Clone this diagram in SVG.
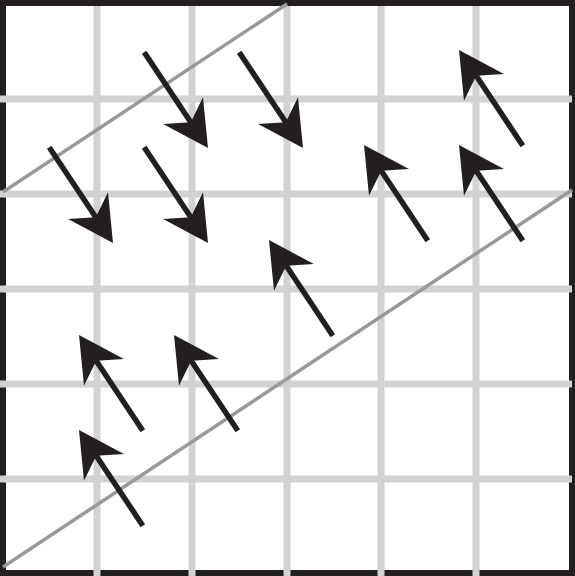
<svg xmlns="http://www.w3.org/2000/svg" width="575" height="576" viewBox="0 0 575 576">
<style>
.border{fill:#fff;stroke:#231f20;stroke-width:6}
.grid line{stroke:#d1d2d4;stroke-width:7}
.diag{stroke:#98999b;stroke-width:3.5;fill:none}
.shaft{stroke:#231f20;stroke-width:5.5}
.head{fill:#231f20}
</style>
<defs>
<g id="arrow">
<line class="shaft" x1="-115" y1="0" x2="-28" y2="0"/>
<polygon class="head" points="0,0 -45,-24 -31,0 -45,24"/>
</g>
</defs>
<rect class="border" x="3" y="3" width="569" height="570"/>
<g id="grid" class="grid">
<line x1="97" y1="6" x2="97" y2="576"/>
<line x1="192" y1="6" x2="192" y2="576"/>
<line x1="287" y1="6" x2="287" y2="576"/>
<line x1="381" y1="6" x2="381" y2="576"/>
<line x1="476" y1="6" x2="476" y2="576"/>
<line x1="0" y1="99" x2="572" y2="99"/>
<line x1="0" y1="194" x2="572" y2="194"/>
<line x1="0" y1="289" x2="572" y2="289"/>
<line x1="0" y1="384" x2="572" y2="384"/>
<line x1="0" y1="479" x2="572" y2="479"/>
</g>
<g id="bounds">
<line class="diag" x1="3" y1="192" x2="287" y2="4"/>
<line class="diag" x1="3" y1="567" x2="572" y2="190"/>
</g>
<g id="connectors">
<g id="a1"><use href="#arrow" transform="translate(208,148) rotate(56.3)"/></g>
<g id="a2"><use href="#arrow" transform="translate(303,148) rotate(56.3)"/></g>
<g id="a3"><use href="#arrow" transform="translate(113,243) rotate(56.3)"/></g>
<g id="a4"><use href="#arrow" transform="translate(208,243) rotate(56.3)"/></g>
<g id="b1"><use href="#arrow" transform="translate(459,50) rotate(236.3)"/></g>
<g id="b2"><use href="#arrow" transform="translate(364,145) rotate(236.3)"/></g>
<g id="b3"><use href="#arrow" transform="translate(459,145) rotate(236.3)"/></g>
<g id="b4"><use href="#arrow" transform="translate(269,240) rotate(236.3)"/></g>
<g id="b5"><use href="#arrow" transform="translate(79,335) rotate(236.3)"/></g>
<g id="b6"><use href="#arrow" transform="translate(174,335) rotate(236.3)"/></g>
<g id="b7"><use href="#arrow" transform="translate(79,430) rotate(236.3)"/></g>
</g>
</svg>
